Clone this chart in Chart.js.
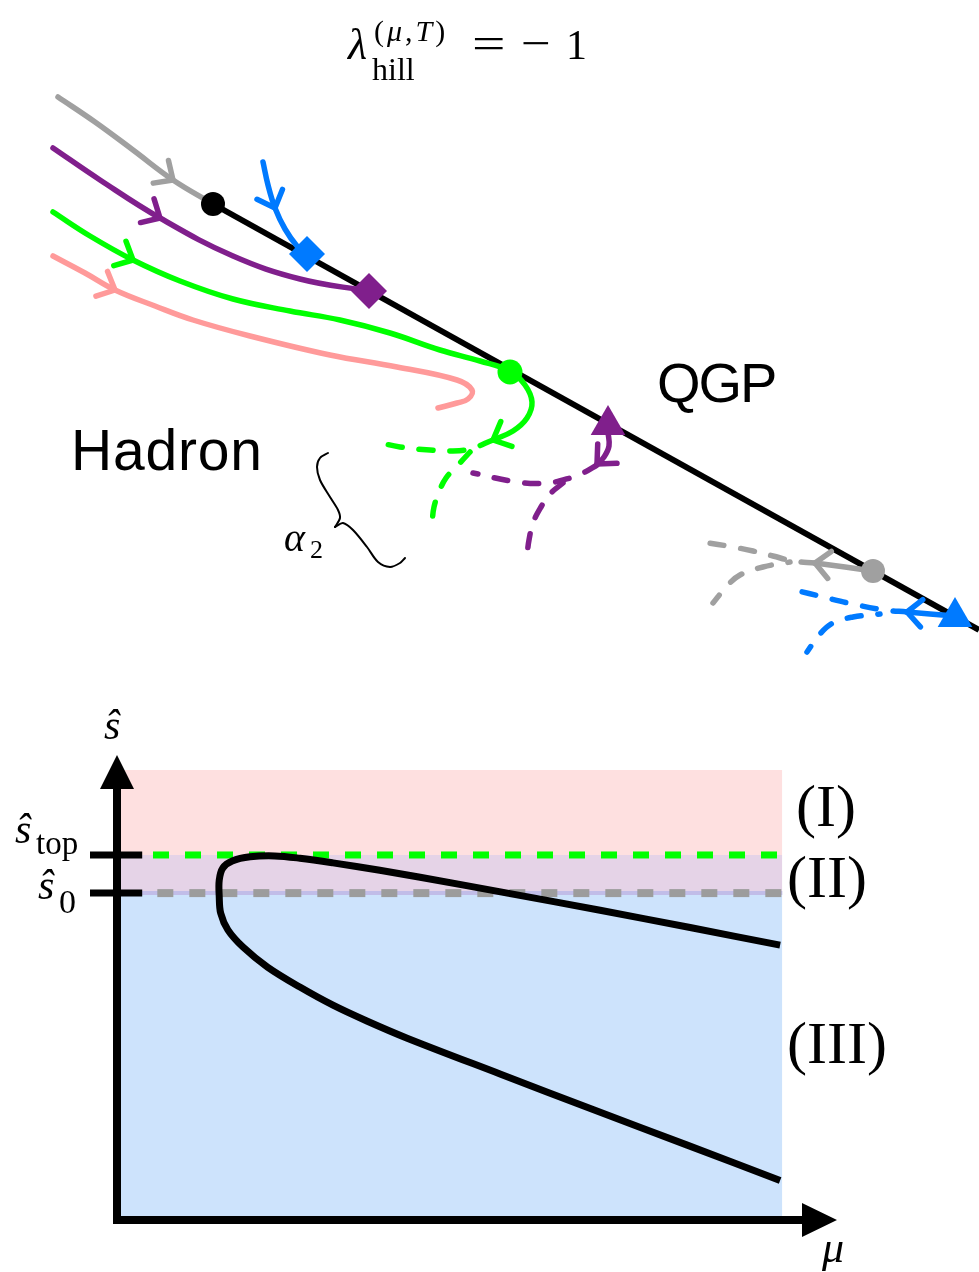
<!DOCTYPE html>
<html>
<head>
<meta charset="utf-8">
<script src="https://cdn.jsdelivr.net/npm/chart.js"></script>
<style>
  html, body { margin: 0; padding: 0; background: #fff; }
  #wrap { position: relative; width: 979px; height: 1272px; overflow: hidden; }
  #wrap canvas { position: absolute; left: 0; }
  #flow { top: 0; }
  #phase { top: 660px; }
  .lbl { position: absolute; white-space: nowrap; line-height: 1; color: #000; }
  .serif { font-family: "Liberation Serif", "Times New Roman", serif; }
  .sans { font-family: "Liberation Sans", Arial, sans-serif; }
</style>
</head>
<body>
<div id="wrap">
  <canvas id="flow" width="979" height="660"></canvas>
  <canvas id="phase" width="979" height="612"></canvas>
</div>
<script>
// 위 그림: 흐름선 (그림 좌표 단위 [x, y])
var boundaryLine = [[213, 204], [979, 630]];
var grayIn = [[58, 97], [95, 122], [133, 150], [173, 180], [213, 204]];
var purpleIn = [[53, 148], [100, 180], [160, 218], [233, 256], [300, 279], [368, 291]];
var greenIn = [[53, 212], [90, 236], [133, 260], [180, 281], [233, 299], [290, 311], [340, 320], [390, 333],
               [440, 350], [480, 361], [510, 371], [525, 385], [532, 402], [527, 418], [513, 431], [493, 440]];
var pinkIn = [[53, 256], [85, 273], [115, 290], [155, 306], [193, 320], [250, 336], [330, 355], [397, 367],
              [457, 380], [472, 390], [468, 399], [457, 403], [438, 408]];
var blueIn = [[263, 162], [268, 185], [275, 208], [285, 229], [297, 246], [307, 254]];

var greenDashA = [[493, 440], [470, 449], [450, 451], [430, 450], [400, 447], [377, 442]];
var greenDashB = [[470, 452], [458, 465], [446, 478], [439, 492], [434, 507], [432, 523]];
var purpleOut = [[608, 432], [609, 446], [604, 457], [597, 464]];
var purpleDashA = [[597, 465], [585, 472], [570, 478], [547, 483], [517, 482], [473, 473]];
var purpleDashB = [[563, 483], [550, 494], [541, 507], [533, 523], [529, 540], [527, 555]];
var grayOut = [[873, 571], [845, 567], [815, 563]];
var grayDashA = [[815, 563], [793, 561], [773, 556], [753, 551], [733, 547], [703, 542]];
var grayDashB = [[790, 562], [763, 567], [740, 575], [727, 586], [713, 603]];
var blueOut = [[955, 616], [930, 614], [907, 612]];
var blueDashA = [[907, 612], [885, 610], [857, 605], [823, 597], [795, 590]];
var blueDashB = [[880, 614], [853, 617], [833, 623], [820, 634], [807, 652]];
var braceUpper = [[328, 453], [320, 458], [317, 467], [320, 480], [330, 497], [338, 510], [340, 518], [335, 527]];
var braceLower = [[335, 527], [343, 523], [353, 530], [367, 547], [378, 562], [390, 567], [400, 563], [405, 558]];

var blackDot = [[213, 204]];
var greenDot = [[510, 372]];
var grayDot = [[873, 571]];
var blueDiamond = [[307, 254]];
var purpleDiamond = [[369, 291]];
var purpleTri = [[608, 425]];
var blueTri = [[955, 617]];

// 아래 그림: mu-s 평면 (축 0~100)
var shadeMuMax = 92.4;
var shadeSMax = 96.8;
var sTop = 78.5;
var s0 = 70.3;
var dashMuStart = [5.0, 5.6];   // 초록, 회색 점선 시작
var tickMu = [-3.75, 3.5];
var curveMu = [92.1, 79.6, 67.1, 54.6, 42.1, 36.5, 30.0, 25.4, 21.9, 18.5, 16.0, 14.7, 14.2, 14.2,
               14.4, 15.4, 17.5, 20.9, 25.4, 30.0, 34.7, 40.3, 53.2, 66.2, 79.2, 92.1];
var curveS = [59.1, 62.9, 66.6, 70.2, 73.7, 75.2, 76.8, 77.8, 78.3, 78.1, 77.2, 75.7, 73.1, 69.5,
              66.0, 62.4, 58.7, 54.4, 50.1, 46.2, 42.8, 39.1, 31.4, 23.7, 16.1, 8.5];

var GRAY = '#a0a0a0', PURPLE = '#801f8c', GREEN = '#00ff00', PINK = '#ff9a9a', BLUE = '#007aff';

function xy(arr) {
  return arr.map(function(p) { return { x: p[0], y: p[1] }; });
}

function curve(arr, color, extra) {
  var ds = {
    data: xy(arr), showLine: true, borderColor: color, borderWidth: 5.5,
    borderCapStyle: 'round', borderJoinStyle: 'round', tension: 0.4, pointRadius: 0
  };
  return Object.assign(ds, extra || {});
}

function dashed(arr, color, offset) {
  return curve(arr, color, { borderDash: [14, 17], borderDashOffset: offset || 0 });
}

function marker(arr, color, style, r) {
  return {
    data: xy(arr), showLine: false, pointStyle: style, pointRadius: r,
    backgroundColor: color, borderColor: color, borderWidth: 0
  };
}

// 화살표 머리 그리기
var arrowPlugin = {
  id: 'arrowHeads',
  afterDatasetsDraw: function(chart) {
    var ctx = chart.ctx, xs = chart.scales.x, ys = chart.scales.y;
    chart.data.datasets.forEach(function(ds) {
      if (!ds.arrowAt) return;
      ds.arrowAt.forEach(function(i) {
        var d = ds.data;
        var a = d[Math.max(i - 1, 0)], b = d[Math.min(i + 1, d.length - 1)];
        var px = xs.getPixelForValue(d[i].x), py = ys.getPixelForValue(d[i].y);
        var ang = Math.atan2(ys.getPixelForValue(b.y) - ys.getPixelForValue(a.y),
                             xs.getPixelForValue(b.x) - xs.getPixelForValue(a.x));
        ctx.save();
        ctx.strokeStyle = ds.borderColor;
        ctx.lineWidth = ds.borderWidth;
        ctx.lineCap = 'round';
        ctx.beginPath();
        [1, -1].forEach(function(s) {
          var t = ang + Math.PI + s * 0.75;
          ctx.moveTo(px, py);
          ctx.lineTo(px + 20 * Math.cos(t), py + 20 * Math.sin(t));
        });
        ctx.stroke();
        ctx.restore();
      });
    });
  }
};

// 축 + 화살표
var axesPlugin = {
  id: 'axesArrows',
  afterDatasetsDraw: function(chart) {
    var ctx = chart.ctx, a = chart.chartArea;
    var ox = chart.scales.x.getPixelForValue(0), oy = chart.scales.y.getPixelForValue(0);
    ctx.save();
    ctx.strokeStyle = '#000';
    ctx.fillStyle = '#000';
    ctx.lineWidth = 8;
    ctx.beginPath();
    ctx.moveTo(ox, oy + 4); ctx.lineTo(ox, a.top + 30);
    ctx.moveTo(ox - 4, oy); ctx.lineTo(a.right - 30, oy);
    ctx.stroke();
    ctx.beginPath();
    ctx.moveTo(ox, a.top); ctx.lineTo(ox - 17, a.top + 34); ctx.lineTo(ox + 17, a.top + 34); ctx.closePath();
    ctx.moveTo(a.right, oy); ctx.lineTo(a.right - 35, oy - 17); ctx.lineTo(a.right - 35, oy + 17); ctx.closePath();
    ctx.fill();
    ctx.restore();
  }
};

function createFlowChart() {
  var sets = [
    marker(blueTri, BLUE, 'triangle', 20),
    marker(grayDot, GRAY, 'circle', 12),
    marker(purpleTri, PURPLE, 'triangle', 20),
    marker(greenDot, GREEN, 'circle', 12.5),
    marker(purpleDiamond, PURPLE, 'rectRot', 18),
    marker(blueDiamond, BLUE, 'rectRot', 18),
    marker(blackDot, '#000', 'circle', 12),
    curve(blueIn, BLUE, { arrowAt: [2] }),
    curve(purpleIn, PURPLE, { arrowAt: [2] }),
    curve(grayIn, GRAY, { arrowAt: [3] }),
    curve(greenIn, GREEN, { arrowAt: [2, greenIn.length - 1] }),
    curve(pinkIn, PINK, { arrowAt: [2] }),
    curve(purpleOut, PURPLE, { arrowAt: [purpleOut.length - 1] }),
    curve(grayOut, GRAY, { arrowAt: [grayOut.length - 1] }),
    curve(blueOut, BLUE, { arrowAt: [blueOut.length - 1] }),
    dashed(greenDashA, GREEN), dashed(greenDashB, GREEN),
    dashed(purpleDashA, PURPLE), dashed(purpleDashB, PURPLE),
    dashed(grayDashA, GRAY), dashed(grayDashB, GRAY, 12),
    dashed(blueDashA, BLUE), dashed(blueDashB, BLUE, 12),
    curve(braceUpper, '#000', { borderWidth: 2, tension: 0.3 }),
    curve(braceLower, '#000', { borderWidth: 2, tension: 0.3 }),
    curve(boundaryLine, '#000', { borderWidth: 6, tension: 0, borderCapStyle: 'butt' })
  ];
  new Chart(document.getElementById('flow'), {
    type: 'scatter',
    data: { datasets: sets },
    options: {
      responsive: false, animation: false, devicePixelRatio: 1,
      layout: { padding: 0, autoPadding: false },
      plugins: { legend: { display: false }, tooltip: { enabled: false } },
      scales: {
        x: { type: 'linear', min: 0, max: 979, display: false },
        y: { type: 'linear', min: 0, max: 660, reverse: true, display: false }
      }
    },
    plugins: [arrowPlugin]
  });
}

function hline(y, x0, x1, color, width, extra) {
  var ds = {
    data: [{ x: x0, y: y }, { x: x1, y: y }], showLine: true, borderColor: color,
    borderWidth: width, pointRadius: 0, tension: 0
  };
  return Object.assign(ds, extra || {});
}

function band(top, bottom, color) {
  return hline(top, 0, shadeMuMax, 'transparent', 0, {
    fill: { value: bottom }, backgroundColor: color
  });
}

function createPhaseChart() {
  var curvePts = curveMu.map(function(m, i) { return [m, curveS[i]]; });
  var sets = [
    curve(curvePts, '#000', { borderWidth: 7, tension: 0.35, borderCapStyle: 'butt' }),
    hline(sTop, tickMu[0], tickMu[1], '#000', 7, { clip: false }),
    hline(s0, tickMu[0], tickMu[1], '#000', 7, { clip: false }),
    hline(sTop, dashMuStart[0], shadeMuMax, GREEN, 7, { borderDash: [16, 16] }),
    hline(s0, dashMuStart[1], shadeMuMax, '#9c9c9c', 8, { borderDash: [16, 16] }),
    hline(s0, 0, shadeMuMax, '#c1bde8', 4),
    band(shadeSMax, sTop, '#fee0e0'),
    band(sTop, s0, '#e5d3e7'),
    band(s0, 0, '#cde3fc')
  ];
  new Chart(document.getElementById('phase'), {
    type: 'scatter',
    data: { datasets: sets },
    options: {
      responsive: false, animation: false, devicePixelRatio: 1,
      layout: { padding: { left: 117, right: 142, top: 95, bottom: 52 }, autoPadding: false },
      plugins: { legend: { display: false }, tooltip: { enabled: false } },
      scales: {
        x: { type: 'linear', min: 0, max: 100, display: false },
        y: { type: 'linear', min: 0, max: 100, display: false }
      }
    },
    plugins: [axesPlugin]
  });
}

// 글자 (기준선 위치로 배치)
function addLabel(html, x, base, size, cls, extraStyle) {
  var d = document.createElement('div');
  d.className = 'lbl ' + cls;
  d.style.fontSize = size + 'px';
  d.style.left = x + 'px';
  var k = cls === 'sans' ? 0.8465 : 0.8375;
  d.style.top = (base - k * size) + 'px';
  if (extraStyle) d.setAttribute('style', d.getAttribute('style') + ';' + extraStyle);
  d.innerHTML = html;
  document.getElementById('wrap').appendChild(d);
}

function addLabels() {
  // 제목
  addLabel('<i>λ</i>', 348, 60, 44, 'serif');
  addLabel('(<i>μ</i>,<i>T</i>)', 374, 41, 30, 'serif', 'letter-spacing:3px');
  addLabel('hill', 372, 80, 32, 'serif');
  addLabel('=', 472, 59, 44, 'serif', 'transform:scaleX(1.35);transform-origin:0 0');
  addLabel('−', 521, 59, 44, 'serif', 'transform:scaleX(1.2);transform-origin:0 0');
  addLabel('1', 566, 59, 42, 'serif');
  // 영역 이름
  addLabel('Hadron', 71, 470, 57, 'sans', 'letter-spacing:0.8px');
  addLabel('QGP', 657, 402, 56, 'sans', 'letter-spacing:-2px');
  addLabel('<i>α</i>', 284, 551, 40, 'serif');
  addLabel('2', 310, 559, 26, 'serif');
  // 아래 그림 축
  addLabel('<i>ŝ</i>', 104, 739, 42, 'serif');
  addLabel('<i>ŝ</i>', 15, 843, 42, 'serif');
  addLabel('top', 36, 855, 33, 'serif');
  addLabel('<i>ŝ</i>', 38, 899, 42, 'serif');
  addLabel('0', 59, 913, 34, 'serif');
  addLabel('<i>μ</i>', 822, 1263, 44, 'serif');
  addLabel('(I)', 796, 826, 60, 'serif');
  addLabel('(II)', 787, 897, 60, 'serif');
  addLabel('(III)', 787, 1063, 60, 'serif');
}

createFlowChart();
createPhaseChart();
addLabels();
</script>
</body>
</html>
